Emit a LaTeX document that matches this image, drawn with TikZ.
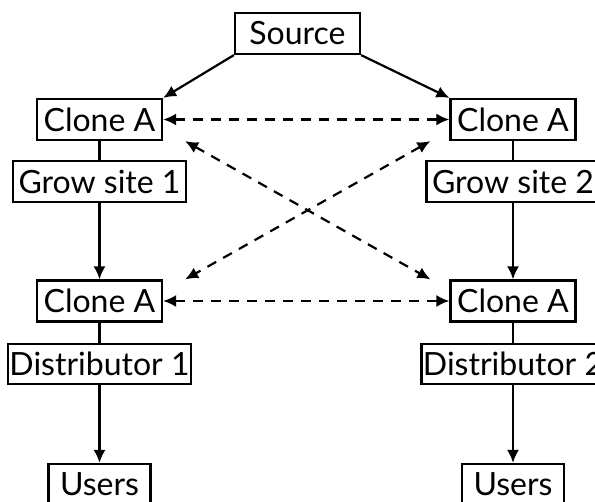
\documentclass[tikz,border=0pt]{standalone}
\usepackage{fontspec}
\setmainfont{Lato}
\usepackage{tikz}
\usetikzlibrary{arrows,arrows.meta,positioning}

\begin{document}
\begin{tikzpicture}
  [x=1pt, y=-1pt, line width=2.2pt, >={Latex[length=13pt,width=12pt]},
   every node/.style={shape=rectangle, draw, line width=2.2pt, align=center,
     inner sep=0pt, minimum height=41pt, font=\fontsize{32}{38}\selectfont},
   clone/.style={minimum width=125pt},
   dashlink/.style={<->, dash pattern=on 10pt off 8pt}]
  \useasboundingbox (0,0) rectangle (595,502);
  \clip (0,0) rectangle (595,502);
  \node[clone] (src) at (297.5,33.5) {Source};
  \node[clone] (cloneA1) at (99.5,119.5) {Clone A};
  \node[clone] (cloneA2) at (513,119.5) {Clone A};
  \node[minimum width=173pt] (grow1) at (99.5,181.5) {Grow site 1};
  \node[minimum width=173pt] (grow2) at (513,181.5) {Grow site 2};
  \node[clone] (cloneB1) at (99.5,301) {Clone A};
  \node[clone] (cloneB2) at (513,301) {Clone A};
  \node[minimum width=183pt, minimum height=40pt] (dist1) at (99.5,364) {Distributor 1};
  \node[minimum width=183pt, minimum height=40pt] (dist2) at (513,364) {Distributor 2};
  \node[minimum width=102pt] (users1) at (99.5,484.5) {Users};
  \node[minimum width=102pt] (users2) at (513,484.5) {Users};

  \draw[->] (src.south west) -- (cloneA1.north east);
  \draw[->] (src.south east) -- (cloneA2.north west);
  \draw (cloneA1) -- (grow1);
  \draw (cloneA2) -- (grow2);
  \draw[->] (grow1) -- (cloneB1);
  \draw[->] (grow2) -- (cloneB2);
  \draw (cloneB1) -- (dist1);
  \draw (cloneB2) -- (dist2);
  \draw[->] (dist1) -- (users1);
  \draw[->] (dist2) -- (users2);

  \draw[dashlink] (cloneA1) -- (cloneA2);
  \draw[dashlink] (cloneB1) -- (cloneB2);
  \draw[dashlink] ([xshift=22pt]cloneA1.south east) -- ([xshift=-19pt]cloneB2.north west);
  \draw[dashlink] ([xshift=-19pt]cloneA2.south west) -- ([xshift=22pt]cloneB1.north east);
\end{tikzpicture}
\end{document}
